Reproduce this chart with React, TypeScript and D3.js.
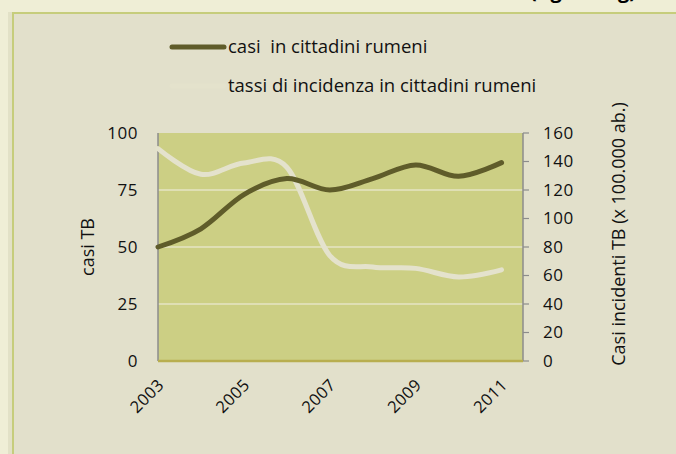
import { useEffect, useRef } from "react";
import * as d3 from "d3";

const years = [2003, 2004, 2005, 2006, 2007, 2008, 2009, 2010, 2011];
const casi = [50, 58, 73, 80, 75, 80, 86, 81, 87];
const tassi = [149, 131, 139, 136, 74, 66, 65, 59, 64];
const yearLabels = [2003, 2005, 2007, 2009, 2011];
const leftTicks = [0, 25, 50, 75, 100];
const rightTicks = [0, 20, 40, 60, 80, 100, 120, 140, 160];

export default function App() {
  const ref = useRef<SVGSVGElement>(null);

  useEffect(() => {
    if (!ref.current) return;
    const svg = d3.select(ref.current);
    svg.selectAll("*").remove();

    const W = 676, H = 454;
    const left = 158, right = 523, top = 133, bottom = 361;
    const font = "'Open Sans', sans-serif";

    // page + panel
    svg.append("rect").attr("width", W).attr("height", H).attr("fill", "#efeed6");
    svg.append("rect").attr("x", 8).attr("y", 12).attr("width", 700).attr("height", 500)
      .attr("fill", "#d9d8bd").attr("opacity", 0.6);
    svg.append("rect").attr("x", 13).attr("y", 13).attr("width", 700).attr("height", 500)
      .attr("fill", "#e2e0cb").attr("stroke", "#c6cd7c").attr("stroke-width", 2);

    // cut-off heading at top
    svg.append("text").attr("x", 530).attr("y", -2)
      .attr("font-family", font).attr("font-size", 20).attr("font-weight", "bold")
      .text("(figura 6 g)");

    const x = d3.scaleLinear().domain([2003, 2011.5]).range([left, right]);
    const yL = d3.scaleLinear().domain([0, 100]).range([bottom, top]);
    const yR = d3.scaleLinear().domain([0, 160]).range([bottom, top]);

    svg.append("rect").attr("x", left).attr("y", top)
      .attr("width", right - left).attr("height", bottom - top).attr("fill", "#cccf84");

    // gridlines
    svg.append("g").selectAll("line")
      .data(leftTicks.filter(t => t > 0 && t < 100))
      .join("line")
      .attr("x1", left).attr("x2", right)
      .attr("y1", d => yL(d)).attr("y2", d => yL(d))
      .attr("stroke", "#e6e5c4").attr("stroke-width", 1.5);

    // axes lines
    svg.append("line").attr("x1", left).attr("x2", left).attr("y1", top).attr("y2", bottom)
      .attr("stroke", "#8c8c8c").attr("stroke-width", 1.5);
    svg.append("line").attr("x1", right).attr("x2", right).attr("y1", top).attr("y2", bottom)
      .attr("stroke", "#8c8c8c").attr("stroke-width", 1.5);
    svg.append("g").selectAll("line")
      .data(rightTicks)
      .join("line")
      .attr("x1", right).attr("x2", right + 6)
      .attr("y1", d => yR(d)).attr("y2", d => yR(d))
      .attr("stroke", "#8c8c8c").attr("stroke-width", 1.2);
    svg.append("line").attr("x1", left).attr("x2", right).attr("y1", bottom).attr("y2", bottom)
      .attr("stroke", "#b8ae4f").attr("stroke-width", 2.5);

    const line = d3.line<number>().curve(d3.curveCardinal.tension(0));

    svg.append("path")
      .attr("d", line.x((_, i) => x(years[i])).y(d => yR(d))(tassi) || "")
      .attr("fill", "none").attr("stroke", "#e4e2cc").attr("stroke-width", 5)
      .attr("stroke-linecap", "round");
    svg.append("path")
      .attr("d", line.x((_, i) => x(years[i])).y(d => yL(d))(casi) || "")
      .attr("fill", "none").attr("stroke", "#5f5c2a").attr("stroke-width", 5)
      .attr("stroke-linecap", "round");

    // tick labels
    svg.append("g").selectAll("text")
      .data(leftTicks)
      .join("text")
      .attr("x", 138).attr("y", d => yL(d)).attr("dy", "0.35em")
      .attr("text-anchor", "end").attr("font-family", font).attr("font-size", 17)
      .attr("letter-spacing", 0.5)
      .attr("fill", "#111")
      .text(d => d);
    svg.append("g").selectAll("text")
      .data(rightTicks)
      .join("text")
      .attr("x", 543).attr("y", d => yR(d)).attr("dy", "0.35em")
      .attr("font-family", font).attr("font-size", 17)
      .attr("letter-spacing", 0.5)
      .attr("fill", "#111")
      .text(d => d);
    svg.append("g").selectAll("text")
      .data(yearLabels)
      .join("text")
      .attr("transform", d => `translate(${x(d) + 7},${386}) rotate(-45)`)
      .attr("text-anchor", "end").attr("font-family", font).attr("font-size", 16.5)
      .attr("letter-spacing", 0.5)
      .attr("fill", "#111")
      .text(d => d);

    // axis titles
    svg.append("text")
      .attr("transform", `translate(94,247) rotate(-90)`)
      .attr("text-anchor", "middle").attr("font-family", font).attr("font-size", 18)
      .attr("fill", "#111").text("casi TB");
    svg.append("text")
      .attr("transform", `translate(625,234) rotate(-90)`)
      .attr("text-anchor", "middle").attr("font-family", font).attr("font-size", 18)
      .attr("fill", "#111").text("Casi incidenti TB (x 100.000 ab.)");

    // legend
    svg.append("line").attr("x1", 172).attr("x2", 224).attr("y1", 47).attr("y2", 47)
      .attr("stroke", "#5f5c2a").attr("stroke-width", 5).attr("stroke-linecap", "round");
    svg.append("line").attr("x1", 172).attr("x2", 224).attr("y1", 86).attr("y2", 86)
      .attr("stroke", "#e4e2cc").attr("stroke-width", 5).attr("stroke-linecap", "round");
    svg.append("text").attr("x", 228).attr("y", 53)
      .attr("font-family", font).attr("font-size", 18.5).attr("fill", "#111")
      .style("white-space", "pre")
      .text("casi  in cittadini rumeni");
    svg.append("text").attr("x", 228).attr("y", 92)
      .attr("font-family", font).attr("font-size", 18.5).attr("fill", "#111")
      .text("tassi di incidenza in cittadini rumeni");
  }, []);

  return (
    <svg ref={ref} width={676} height={454}
      style={{ position: "absolute", left: 0, top: 0, display: "block" }} />
  );
}
